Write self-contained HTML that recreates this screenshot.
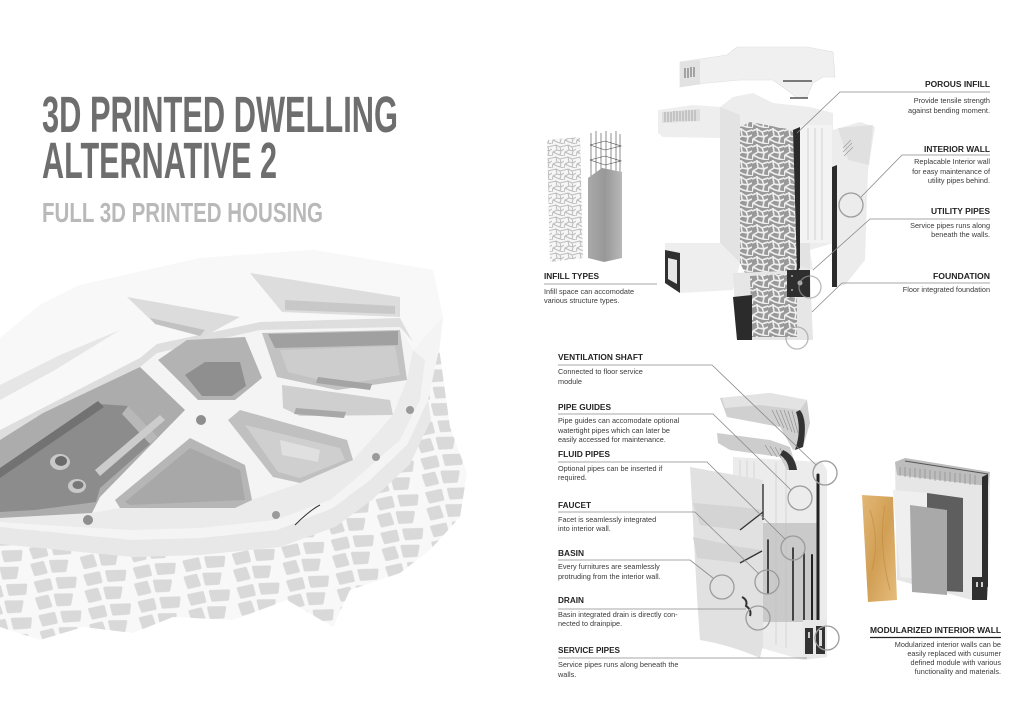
<!DOCTYPE html>
<html><head><meta charset="utf-8"><style>
html,body{margin:0;padding:0;background:#fff;}
svg{display:block;}
text{font-family:"Liberation Sans",sans-serif;}
.h{font-weight:bold;font-size:8px;fill:#242424;}
.d{font-size:7.3px;fill:#3a3a3a;}
.ln{stroke:#8a8a8a;stroke-width:0.8;fill:none;}
.c{stroke:#9c9c9c;stroke-width:1.3;fill:none;}
</style></head><body>
<svg width="1024" height="724" viewBox="0 0 1024 724" xmlns="http://www.w3.org/2000/svg">
<defs>
 <pattern id="lat" width="16" height="16" patternUnits="userSpaceOnUse">
  <rect width="16" height="16" fill="#999999"/>
  <path d="M0 3 L5 1 L10 4 L16 2 M5 1 L6 8 L1 11 L0 16 M6 8 L12 9 L16 7 M12 9 L11 15 L16 16 M1 11 L7 14 L11 15 M10 4 L12 9 M5 0 L5 1" stroke="#efefef" stroke-width="1.6" fill="none"/>
 </pattern>
 <pattern id="lat2" width="12" height="12" patternUnits="userSpaceOnUse">
  <rect width="12" height="12" fill="#f6f6f6"/>
  <path d="M0 2 L4 1 L8 3 L12 2 M4 1 L5 6 L1 8 L0 12 M5 6 L9 7 L12 5 M9 7 L8 11 L12 12 M1 8 L5 10 L8 11 M8 3 L9 7" stroke="#bcbcbc" stroke-width="1" fill="none"/>
 </pattern>
 <pattern id="flat" width="50" height="34" patternUnits="userSpaceOnUse" patternTransform="rotate(-8)">
  <rect width="50" height="34" fill="#f8f8f8"/>
  <g fill="#d9d9d9" stroke="#d9d9d9" stroke-width="3" stroke-linejoin="round">
   <path d="M4 4 L18 3 L19 12 L6 13 Z"/>
   <path d="M26 3 L44 5 L42 13 L27 12 Z"/>
   <path d="M3 20 L14 19 L16 29 L5 30 Z"/>
   <path d="M22 19 L38 21 L35 30 L23 29 Z"/>
  </g>
 </pattern>
 <linearGradient id="conc" x1="0" x2="1" y1="0" y2="0">
  <stop offset="0" stop-color="#a9a9a9"/><stop offset="0.5" stop-color="#989898"/><stop offset="1" stop-color="#b8b8b8"/>
 </linearGradient>
 <linearGradient id="wood" x1="0" x2="1" y1="0" y2="1">
  <stop offset="0" stop-color="#e2b774"/><stop offset="0.5" stop-color="#d19f55"/><stop offset="1" stop-color="#e6bd7d"/>
 </linearGradient>
</defs>

<rect width="1024" height="724" fill="#ffffff"/>

<!-- TITLE -->
<text x="42" y="132" font-size="51" font-weight="bold" fill="#6e6e6e" textLength="356" lengthAdjust="spacingAndGlyphs">3D PRINTED DWELLING</text>
<text x="42" y="178" font-size="51" font-weight="bold" fill="#6e6e6e" textLength="235" lengthAdjust="spacingAndGlyphs">ALTERNATIVE 2</text>
<text x="42" y="222" font-size="28" font-weight="bold" fill="#b9b9b9" textLength="281" lengthAdjust="spacingAndGlyphs">FULL 3D PRINTED HOUSING</text>

<!-- FLOOR PLAN -->
<polygon points="0,520 150,535 300,520 360,470 405,420 437,333 450,427 467,473 460,517 430,550 400,573 350,590 333,627 287,600 233,620 173,617 133,633 83,627 40,640 0,627" fill="url(#flat)"/>
<polygon points="0,527 60,533 133,540 200,538 277,530 333,508 370,480 407,445 428,400 431,420 410,464 372,500 335,527 280,547 200,555 133,557 60,550 0,544" fill="#e8e8e8"/>
<polygon points="0,338 40,305 80,285 200,258 313,250 433,270 443,317 440,345 428,400 407,445 370,480 333,508 277,530 200,538 133,540 60,533 0,527" fill="#f4f4f4"/>
<polygon points="0,338 40,305 80,285 200,258 313,250 433,270 443,317 413,350 400,327 260,330 157,353 140,367 0,440" fill="#f8f8f8"/>
<polygon points="0,430 140,358 157,344 260,322 400,318 413,342 400,327 260,330 157,353 140,367 0,440" fill="#dedede"/>
<polygon points="127,297 240,317 205,336 153,322" fill="#dcdcdc"/>
<polygon points="150,318 205,330 200,336 155,324" fill="#c2c2c2"/>
<polygon points="250,273 400,297 400,317 282,312" fill="#dddddd"/>
<polygon points="285,300 395,306 395,314 285,310" fill="#c8c8c8"/>
<polygon points="0,385 60,355 120,330 55,370 0,400" fill="#e6e6e6"/>
<polygon points="0,518 92,513 120,508 235,508 252,500 300,483 353,460 393,415 407,380 413,350 425,360 420,400 400,440 360,475 330,500 275,520 200,528 130,530 60,526 0,522" fill="#ebebeb"/>

<!-- big room -->
<polygon points="0,440 43,413 140,367 185,410 100,497 92,513 0,518" fill="#acacac"/>
<polygon points="0,475 100,404 128,406 158,437 100,488 96,502 35,510 0,512" fill="#8c8c8c"/>
<polygon points="0,468 98,401 104,407 0,478" fill="#727272"/>
<polygon points="128,406 158,437 150,444 122,414" fill="#b8b8b8"/>
<ellipse cx="60" cy="462" rx="10" ry="8" fill="#c9c9c9"/><ellipse cx="61" cy="461" rx="6" ry="5" fill="#6a6a6a"/>
<ellipse cx="77" cy="486" rx="9" ry="7" fill="#c9c9c9"/><ellipse cx="78" cy="485" rx="5.5" ry="4" fill="#777"/>
<!-- top-middle room -->
<polygon points="158,360 187,340 245,337 262,378 235,400 198,400" fill="#b3b3b3"/>
<polygon points="185,375 205,362 240,362 246,386 232,396 202,396" fill="#8f8f8f"/>
<!-- top-right room -->
<polygon points="262,333 400,330 407,380 337,390 277,377" fill="#c2c2c2"/>
<polygon points="268,334 398,331 398,345 275,348" fill="#a0a0a0"/>
<polygon points="280,350 395,346 400,375 340,385 288,372" fill="#cdcdcd"/>
<polygon points="318,377 372,384 370,390 316,383" fill="#a4a4a4"/>
<!-- middle-right room -->
<polygon points="282,385 390,400 393,415 300,416 283,408" fill="#cfcfcf"/>
<polygon points="296,408 346,412 344,418 294,414" fill="#a8a8a8"/>
<!-- lower-right room -->
<polygon points="228,420 240,410 347,440 353,460 300,483 273,477" fill="#c0c0c0"/>
<polygon points="245,425 340,448 345,460 300,478 278,472" fill="#cfcfcf"/>
<polygon points="280,440 320,450 318,462 282,455" fill="#e0e0e0"/>
<!-- triangle room -->
<polygon points="115,500 190,438 245,465 252,500 235,508 120,508" fill="#b6b6b6"/>
<polygon points="125,502 190,448 240,470 245,500 130,505" fill="#a8a8a8"/>
<polygon points="95,470 160,415 165,420 100,476" fill="#cccccc"/>
<circle cx="201" cy="420" r="5" fill="#8e8e8e"/>
<circle cx="88" cy="520" r="5" fill="#8e8e8e"/>
<circle cx="276" cy="515" r="4" fill="#9a9a9a"/>
<circle cx="410" cy="410" r="4" fill="#9a9a9a"/>
<circle cx="376" cy="457" r="4" fill="#9a9a9a"/>
<path d="M295 525 Q310 510 320 505" stroke="#333" stroke-width="1" fill="none"/>

<!-- INFILL TYPES columns -->
<polygon points="547,140 580,137 583,258 550,262" fill="url(#lat2)"/>
<g stroke="#444" stroke-width="0.6">
 <line x1="591" y1="133" x2="591" y2="180"/><line x1="596" y1="131" x2="596" y2="180"/>
 <line x1="601" y1="133" x2="601" y2="180"/><line x1="606" y1="131" x2="606" y2="180"/>
 <line x1="611" y1="133" x2="611" y2="180"/><line x1="616" y1="131" x2="616" y2="180"/>
 <line x1="620" y1="134" x2="620" y2="180"/>
 <polyline points="590,145 605,141 621,146 605,150 590,145" fill="none"/>
 <polyline points="590,160 605,156 621,161 605,165 590,160" fill="none"/>
</g>
<polygon points="588,178 602,168 622,172 622,258 604,262 588,258" fill="url(#conc)"/>
<text class="h" x="544" y="279" textLength="55" lengthAdjust="spacingAndGlyphs">INFILL TYPES</text>
<line class="ln" x1="544" y1="284" x2="657" y2="284"/>
<text class="d" x="544" y="294">Infill space can accomodate</text>
<text class="d" x="544" y="303">various structure types.</text>

<!-- TOP MODEL -->
<polygon points="680,62 727,55 737,47 807,47 833,52 835,77 823,77 813,83 807,97 797,98 787,90 773,80 740,80 707,83 680,87" fill="#f0f0f0" stroke="#dddddd" stroke-width="0.6"/>
<polygon points="680,62 700,60 700,84 680,87" fill="#e2e2e2"/>
<g stroke="#444" stroke-width="0.8"><line x1="685" y1="68" x2="685" y2="78"/><line x1="688" y1="68" x2="688" y2="78"/><line x1="691" y1="67" x2="691" y2="77"/><line x1="694" y1="67" x2="694" y2="77"/></g>
<line x1="783" y1="81" x2="812" y2="81" stroke="#333" stroke-width="1.2"/>
<line x1="790" y1="98" x2="808" y2="98" stroke="#333" stroke-width="1.2"/>
<polygon points="658,110 693,105 720,107 720,138 663,137 658,133" fill="#eeeeee"/>
<polygon points="662,112 700,109 700,121 662,123" fill="#dedede"/>
<g stroke="#777" stroke-width="0.5"><line x1="665" y1="112" x2="665" y2="122"/><line x1="668" y1="112" x2="668" y2="122"/><line x1="671" y1="112" x2="671" y2="122"/><line x1="674" y1="111" x2="674" y2="121"/><line x1="677" y1="111" x2="677" y2="121"/><line x1="680" y1="111" x2="680" y2="121"/><line x1="683" y1="111" x2="683" y2="121"/><line x1="686" y1="110" x2="686" y2="121"/><line x1="689" y1="110" x2="689" y2="121"/><line x1="692" y1="110" x2="692" y2="121"/><line x1="695" y1="110" x2="695" y2="121"/></g>
<polygon points="720,107 733,97 753,93 773,103 810,107 833,113 833,243 810,250 813,270 720,243" fill="#ededed"/>
<polygon points="720,107 740,115 740,263 720,243" fill="#e3e3e3"/>
<polygon points="740,150 740,263 760,280 810,270 810,240" fill="#dcdcdc" opacity="0.6"/>
<polygon points="740,127 750,122 793,130 797,270 787,277 747,277 740,263" fill="url(#lat)"/>
<polygon points="793,130 800,127 800,268 797,272" fill="#2a2a2a"/>
<rect x="800" y="125" width="32" height="118" fill="#f3f3f3"/>
<g stroke="#d2d2d2" stroke-width="1"><line x1="808" y1="128" x2="808" y2="240"/><line x1="815" y1="128" x2="815" y2="240"/><line x1="822" y1="128" x2="822" y2="240"/></g>
<polygon points="833,130 860,122 875,127 868,170 865,260 845,285 833,287" fill="#ececec"/>
<polygon points="838,128 873,125 869,165 848,160" fill="#e0e0e0"/>
<g stroke="#999" stroke-width="0.6"><line x1="843" y1="148" x2="851" y2="140"/><line x1="843" y1="152" x2="852" y2="143"/><line x1="844" y1="156" x2="853" y2="147"/></g>
<polygon points="832,167 837,165 837,287 832,287" fill="#2b2b2b"/>
<circle class="c" cx="851" cy="205" r="12"/>
<polygon points="665,243 720,243 740,263 733,290 680,293 665,283" fill="#eeeeee"/>
<polygon points="665,250 680,253 680,293 665,283" fill="#303030"/>
<polygon points="668,258 677,260 677,284 668,279" fill="#e6e6e6"/>
<polygon points="733,273 810,270 813,340 737,340" fill="#e6e6e6"/>
<polygon points="750,276 797,273 797,337 752,337" fill="url(#lat)"/>
<polygon points="733,297 752,295 752,340 737,340" fill="#2b2b2b"/>
<polygon points="787,270 810,270 810,297 787,297" fill="#2e2e2e"/>
<circle cx="800" cy="283" r="2.5" fill="#aaa"/><circle cx="792" cy="276" r="1" fill="#aaa"/><circle cx="792" cy="290" r="1" fill="#aaa"/>
<circle class="c" cx="810" cy="287" r="11" opacity="0.7"/>
<circle class="c" cx="797" cy="338" r="11" opacity="0.7"/>

<polyline class="ln" points="990,92 840,92 797,133"/>
<text class="h" x="990" y="87" text-anchor="end" textLength="65" lengthAdjust="spacingAndGlyphs">POROUS INFILL</text>
<text class="d" x="990" y="103" text-anchor="end">Provide tensile strength</text>
<text class="d" x="990" y="113" text-anchor="end">against bending moment.</text>

<polyline class="ln" points="990,155 902,155 861,197"/>
<text class="h" x="990" y="152" text-anchor="end" textLength="66" lengthAdjust="spacingAndGlyphs">INTERIOR WALL</text>
<text class="d" x="990" y="164" text-anchor="end">Replacable Interior wall</text>
<text class="d" x="990" y="174" text-anchor="end">for easy maintenance of</text>
<text class="d" x="990" y="183" text-anchor="end">utility pipes behind.</text>

<polyline class="ln" points="990,219 870,219 813,270"/>
<text class="h" x="990" y="214" text-anchor="end" textLength="59" lengthAdjust="spacingAndGlyphs">UTILITY PIPES</text>
<text class="d" x="990" y="228" text-anchor="end">Service pipes runs along</text>
<text class="d" x="990" y="237" text-anchor="end">beneath the walls.</text>

<polyline class="ln" points="990,283 842,283 812,312"/>
<text class="h" x="990" y="279" text-anchor="end" textLength="57" lengthAdjust="spacingAndGlyphs">FOUNDATION</text>
<text class="d" x="990" y="292" text-anchor="end">Floor integrated foundation</text>

<!-- BOTTOM MODEL -->
<polygon points="733,457 822,462 827,470 827,657 803,660 733,640" fill="#ececec"/>
<g stroke="#d6d6d6" stroke-width="1"><line x1="740" y1="460" x2="740" y2="640"/><line x1="747" y1="460" x2="747" y2="640"/><line x1="754" y1="461" x2="754" y2="640"/><line x1="776" y1="462" x2="776" y2="645"/><line x1="786" y1="462" x2="786" y2="648"/></g>
<polygon points="763,523 817,523 817,622 763,622" fill="#bcbcbc" opacity="0.7"/>
<polygon points="720,398 770,393 807,400 810,423 803,447 793,450 780,427 727,417" fill="#d0d0d0"/>
<polygon points="722,398 770,393 807,400 800,410 760,405 725,408" fill="#e3e3e3"/>
<g stroke="#8a8a8a" stroke-width="0.6"><line x1="772" y1="410" x2="780" y2="426"/><line x1="776" y1="410" x2="784" y2="428"/><line x1="780" y1="410" x2="788" y2="430"/><line x1="784" y1="410" x2="792" y2="432"/><line x1="788" y1="411" x2="795" y2="433"/><line x1="792" y1="411" x2="798" y2="433"/></g>
<path d="M800 410 Q808 420 803 447 L795 450 Q802 430 796 412 Z" fill="#333"/>
<polygon points="717,433 770,440 790,447 797,470 787,470 780,457 730,450 718,443" fill="#cdcdcd"/>
<g stroke="#8a8a8a" stroke-width="0.6"><line x1="765" y1="445" x2="772" y2="456"/><line x1="770" y1="446" x2="777" y2="457"/><line x1="775" y1="447" x2="781" y2="458"/><line x1="780" y1="448" x2="785" y2="460"/></g>
<path d="M783 450 Q795 455 797 470 L789 470 Q788 460 780 455 Z" fill="#333"/>
<path d="M690 467 L763 480 L763 645 L760 658 Q730 645 700 640 Q697 600 695 560 Q693 520 690 467 Z" fill="#e1e1e1"/>
<line x1="763" y1="484" x2="763" y2="520" stroke="#333" stroke-width="1.4"/>
<polygon points="693,503 740,507 763,510 740,530 700,525" fill="#d4d4d4"/>
<line x1="740" y1="530" x2="763" y2="512" stroke="#333" stroke-width="1.3"/>
<polygon points="693,537 740,547 762,550 740,563 697,558" fill="#d4d4d4"/>
<line x1="740" y1="563" x2="762" y2="551" stroke="#333" stroke-width="1.3"/>
<path d="M742 597 Q748 600 746 606 Q752 610 750 616" stroke="#333" stroke-width="2" fill="none"/>
<g stroke="#222" stroke-linecap="round">
 <line x1="768" y1="540" x2="768" y2="593" stroke-width="1.6"/>
 <line x1="793" y1="548" x2="793" y2="620" stroke-width="1.6"/>
 <line x1="804" y1="553" x2="804" y2="620" stroke-width="1.6"/>
 <line x1="812" y1="555" x2="812" y2="623" stroke-width="2"/>
 <line x1="818" y1="475" x2="818" y2="620" stroke-width="3"/>
</g>
<polygon points="803,620 827,620 827,657 803,660" fill="#e8e8e8"/>
<rect x="805" y="628" width="8" height="26" fill="#333"/><rect x="816" y="626" width="9" height="28" fill="#333"/>
<rect x="808" y="632" width="2" height="6" fill="#ccc"/><rect x="819" y="630" width="3" height="16" fill="#ddd"/>
<circle class="c" cx="825" cy="473" r="12"/>
<circle class="c" cx="800" cy="498" r="12"/>
<circle class="c" cx="793" cy="548" r="12"/>
<circle class="c" cx="767" cy="582" r="12"/>
<circle class="c" cx="722" cy="587" r="12"/>
<circle class="c" cx="758" cy="618" r="12"/>
<circle class="c" cx="827" cy="638" r="12"/>

<polyline class="ln" points="558,365 712,365 816,465"/>
<text class="h" x="558" y="360" textLength="85" lengthAdjust="spacingAndGlyphs">VENTILATION SHAFT</text>
<text class="d" x="558" y="374">Connected to floor service</text>
<text class="d" x="558" y="384">module</text>

<polyline class="ln" points="558,414 713,414 791,490"/>
<text class="h" x="558" y="410" textLength="53" lengthAdjust="spacingAndGlyphs">PIPE GUIDES</text>
<text class="d" x="558" y="423">Pipe guides can accomodate optional</text>
<text class="d" x="558" y="433">watertight pipes which can later be</text>
<text class="d" x="558" y="442">easily accessed for maintenance.</text>

<polyline class="ln" points="558,462 707,462 785,539"/>
<text class="h" x="558" y="457" textLength="52" lengthAdjust="spacingAndGlyphs">FLUID PIPES</text>
<text class="d" x="558" y="471">Optional pipes can be inserted if</text>
<text class="d" x="558" y="480">required.</text>

<polyline class="ln" points="558,512 695,512 759,574"/>
<text class="h" x="558" y="508" textLength="33" lengthAdjust="spacingAndGlyphs">FAUCET</text>
<text class="d" x="558" y="522">Facet is seamlessly integrated</text>
<text class="d" x="558" y="531">into interior wall.</text>

<polyline class="ln" points="558,560 690,560 713,578"/>
<text class="h" x="558" y="556" textLength="26" lengthAdjust="spacingAndGlyphs">BASIN</text>
<text class="d" x="558" y="569">Every furnitures are seamlessly</text>
<text class="d" x="558" y="579">protruding from the interior wall.</text>

<polyline class="ln" points="558,609 746,609"/>
<text class="h" x="558" y="603" textLength="26" lengthAdjust="spacingAndGlyphs">DRAIN</text>
<text class="d" x="558" y="617">Basin integrated drain is directly con-</text>
<text class="d" x="558" y="626">nected to drainpipe.</text>

<polyline class="ln" points="558,658 807,658"/>
<text class="h" x="558" y="653" textLength="62" lengthAdjust="spacingAndGlyphs">SERVICE PIPES</text>
<text class="d" x="558" y="667">Service pipes runs along beneath the</text>
<text class="d" x="558" y="677">walls.</text>

<!-- MODULAR WALL -->
<polygon points="895,462 905,458 990,472 988,573 983,600 972,600 897,580" fill="#e6e6e6"/>
<polygon points="895,462 905,458 990,472 988,486 897,475" fill="#bdbdbd"/>
<g stroke="#7a7a7a" stroke-width="0.5"><line x1="900" y1="467" x2="900" y2="476"/><line x1="905" y1="467" x2="905" y2="477"/><line x1="910" y1="468" x2="910" y2="478"/><line x1="915" y1="468" x2="915" y2="478"/><line x1="920" y1="469" x2="920" y2="479"/><line x1="925" y1="469" x2="925" y2="479"/><line x1="930" y1="470" x2="930" y2="480"/><line x1="935" y1="471" x2="935" y2="481"/><line x1="940" y1="471" x2="940" y2="481"/><line x1="945" y1="472" x2="945" y2="482"/><line x1="950" y1="472" x2="950" y2="482"/><line x1="955" y1="473" x2="955" y2="483"/><line x1="960" y1="473" x2="960" y2="483"/><line x1="965" y1="474" x2="965" y2="484"/><line x1="970" y1="474" x2="970" y2="485"/><line x1="975" y1="475" x2="975" y2="485"/></g>
<line x1="905" y1="461" x2="988" y2="474" stroke="#555" stroke-width="1"/>
<polygon points="982,477 988,474 988,587 982,587" fill="#2e2e2e"/>
<polygon points="972,577 988,577 987,600 972,600" fill="#2e2e2e"/>
<rect x="976" y="582" width="2" height="5" fill="#ccc"/><rect x="981" y="582" width="2" height="5" fill="#ccc"/>
<polygon points="893,490 927,493 927,580 900,577" fill="#efefef"/>
<polygon points="927,493 963,498 963,592 927,590" fill="#5e5e5e"/>
<polygon points="910,505 947,510 947,595 912,592" fill="#a9a9a9"/>
<polygon points="862,495 893,497 897,600 868,602" fill="url(#wood)"/>
<path d="M870 510 Q880 540 872 570 M885 505 Q878 545 890 590" stroke="#c08a40" stroke-width="1" fill="none" opacity="0.6"/>

<text class="h" x="1001" y="633" text-anchor="end" textLength="131" lengthAdjust="spacingAndGlyphs">MODULARIZED INTERIOR WALL</text>
<line x1="870" y1="637.5" x2="1001" y2="637.5" stroke="#222" stroke-width="1.2"/>
<text class="d" x="1001" y="647" text-anchor="end">Modularized interior walls can be</text>
<text class="d" x="1001" y="656" text-anchor="end">easily replaced with cusumer</text>
<text class="d" x="1001" y="665" text-anchor="end">defined module with various</text>
<text class="d" x="1001" y="674" text-anchor="end">functionality and materials.</text>
</svg>
</body></html>
